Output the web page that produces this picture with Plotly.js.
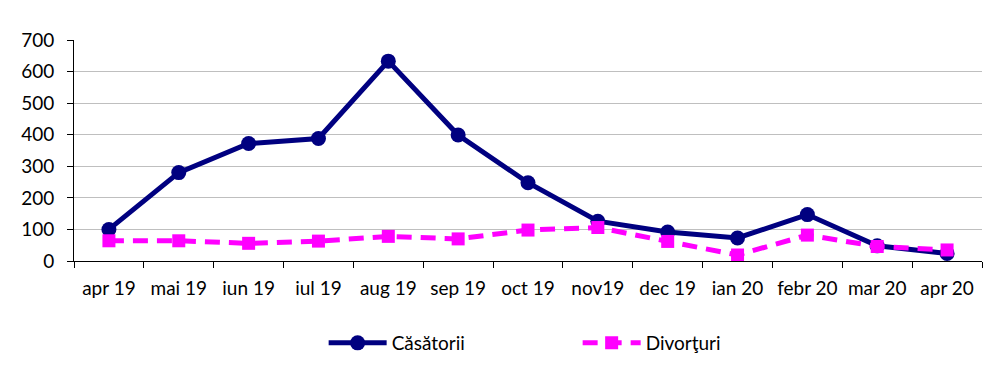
<!DOCTYPE html>
<html>
<head>
<meta charset="utf-8">
<script src="https://cdn.plot.ly/plotly-3.0.1.min.js"></script>
<style>html,body{margin:0;padding:0;background:#fff;}#chart{width:1002px;height:370px;}</style>
</head>
<body>
<div id="chart"></div>
<script>
var categories = ["apr 19","mai 19","iun 19","iul 19","aug 19","sep 19","oct 19","nov19","dec 19","ian 20","febr 20","mar 20","apr 20"];
var casatorii = [100, 280, 372, 388, 633, 399, 248, 126, 92, 73, 147, 48, 24];
var divorturi = [64, 64, 56, 63, 78, 70, 98, 106, 62, 19, 82, 46, 35];
var yTicks = [0, 100, 200, 300, 400, 500, 600, 700];
var yGrid = [100, 200, 300, 400, 500, 600];

var font = "Lato, 'Open Sans', sans-serif";
var fs = 19;

var traces = [
  {
    x: categories, y: casatorii, name: "Căsătorii", type: "scatter", mode: "lines+markers",
    line: {color: "#000080", width: 5},
    marker: {symbol: "circle", size: 15, color: "#000080"}
  },
  {
    x: categories, y: divorturi, name: "Divorţuri", type: "scatter", mode: "lines+markers",
    line: {color: "#ff00ff", width: 5, dash: "15px,9px"},
    marker: {symbol: "square", size: 13, color: "#ff00ff"}
  }
];

var layout = {
  width: 1002, height: 370,
  margin: {l: 74, r: 20, t: 40, b: 109, autoexpand: false},
  paper_bgcolor: "#fff", plot_bgcolor: "#fff",
  font: {family: font, size: fs, color: "#000"},
  showlegend: true,
  legend: {
    orientation: "h", xref: "container", yref: "container",
    x: 0.323, xanchor: "left", y: 0.073, yanchor: "middle",
    entrywidth: 181, entrywidthmode: "pixels", itemwidth: 58,
    font: {family: font, size: fs, color: "#000"}
  },
  xaxis: {
    type: "category", range: [-0.5, 12.5], tickson: "boundaries",
    ticks: "outside", ticklen: 6, tickcolor: "#000", tickwidth: 1,
    showline: true, linecolor: "#000", linewidth: 1,
    showgrid: false, zeroline: false, fixedrange: true, automargin: false,
    ticklabelstandoff: 10,
    tickfont: {family: font, size: fs, color: "#000"}
  },
  yaxis: {
    range: [0, 700], tickvals: yTicks, ticktext: yTicks.map(String),
    ticks: "outside", ticklen: 6, tickcolor: "#000", tickwidth: 1,
    showline: true, linecolor: "#000", linewidth: 1,
    showgrid: false, zeroline: false, fixedrange: true, automargin: false,
    ticklabelstandoff: 9,
    minor: {tickvals: yGrid, showgrid: true, gridcolor: "#bfbfbf", gridwidth: 1, ticks: ""},
    tickfont: {family: font, size: fs, color: "#000"}
  }
};

Plotly.newPlot("chart", traces, layout, {displayModeBar: false, staticPlot: true});
</script>
</body>
</html>
